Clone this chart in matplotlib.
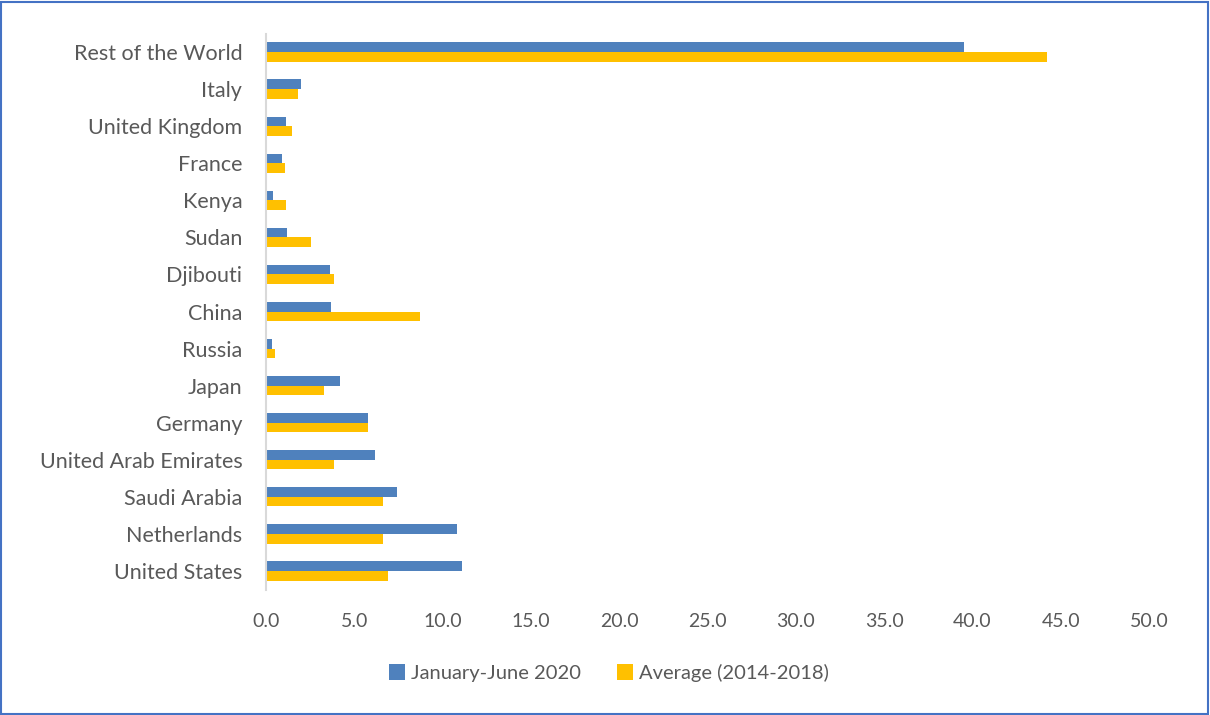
import matplotlib
matplotlib.use('Agg')
import matplotlib.pyplot as plt
import numpy as np
from matplotlib.patches import Rectangle

# Partners, listed bottom to top
countries = ['United States', 'Netherlands', 'Saudi Arabia', 'United Arab Emirates',
             'Germany', 'Japan', 'Russia', 'China', 'Djibouti', 'Sudan', 'Kenya',
             'France', 'United Kingdom', 'Italy', 'Rest of the World']
jan_jun_2020 = [11.1, 10.8, 7.4, 6.2, 5.8, 4.2, 0.35, 3.7, 3.6, 1.2, 0.4,
                0.9, 1.15, 2.0, 39.5]
avg_2014_2018 = [6.9, 6.65, 6.6, 3.85, 5.75, 3.3, 0.5, 8.75, 3.85, 2.55, 1.15,
                 1.05, 1.5, 1.8, 44.2]

BLUE = '#4F81BD'
GOLD = '#FFC000'
TXT = '#595959'

plt.rcParams['font.family'] = ['Lato', 'DejaVu Sans']

fig = plt.figure(figsize=(12.1, 7.15), dpi=100)
fig.patch.set_facecolor('white')
ax = fig.add_axes([0.2198, 0.1755, 0.7298, 0.7776])

y = np.arange(len(countries))
h = 0.26
ax.barh(y + h / 2, jan_jun_2020, height=h, color=BLUE, label='January-June 2020')
ax.barh(y - h / 2, avg_2014_2018, height=h, color=GOLD, label='Average (2014-2018)')

ax.set_xlim(0, 50)
ax.set_ylim(-0.5, len(countries) - 0.5)
ax.set_xticks(np.arange(0, 51, 5))
ax.set_xticklabels([f'{v:.1f}' for v in np.arange(0, 51, 5)])
ax.set_yticks(y)
ax.set_yticklabels(countries)
ax.tick_params(axis='both', length=0, colors=TXT)
ax.tick_params(axis='x', pad=17, labelsize=14)
ax.tick_params(axis='y', pad=17, labelsize=15.5)

for side in ['top', 'right', 'bottom']:
    ax.spines[side].set_visible(False)
ax.spines['left'].set_color('#D9D9D9')
ax.spines['left'].set_linewidth(1.5)

fig.legend(loc='center', bbox_to_anchor=(609 / 1210, 1 - 673 / 715), ncol=2,
           frameon=False, fontsize=14.5, labelcolor=TXT, handlelength=0.8,
           handleheight=0.8, handletextpad=0.3, columnspacing=1.8)

# Outer frame
fig.patches.append(Rectangle((0.001, 0.002), 0.997, 0.995, transform=fig.transFigure,
                             fill=False, edgecolor='#4472C4', linewidth=1.5))

fig.savefig('out.png', dpi=100, facecolor='white')
